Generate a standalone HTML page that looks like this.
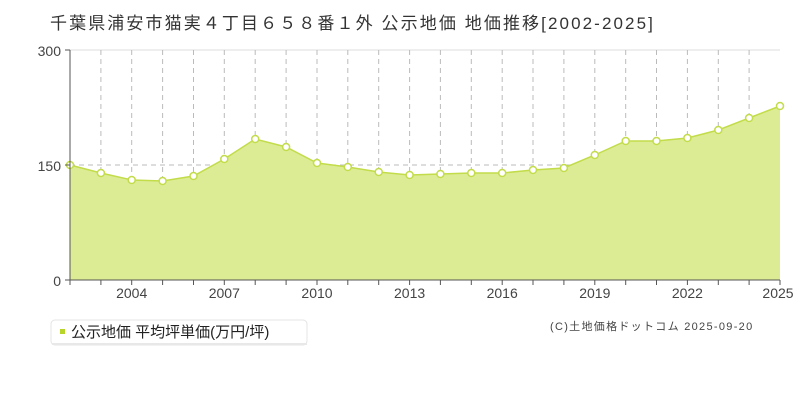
<!DOCTYPE html>
<html><head><meta charset="utf-8"><style>
body{margin:0;background:#fff;width:800px;height:400px;overflow:hidden;font-family:"Liberation Sans","Noto Sans CJK JP",sans-serif;}
</style></head><body>
<svg width="800" height="400" xmlns="http://www.w3.org/2000/svg" style="position:absolute;left:0;top:0">
<text x="50" y="29" font-size="17" fill="#333" letter-spacing="2.1" font-family="Liberation Sans, Noto Sans CJK JP, sans-serif">千葉県浦安市猫実４丁目６５８番１外 公示地価 地価推移[2002-2025]</text>
<line x1="70" y1="50" x2="780" y2="50" stroke="#ddd"/>
<g stroke="#bbb" stroke-dasharray="5,4">
<line x1="100.9" y1="50" x2="100.9" y2="280"/><line x1="131.7" y1="50" x2="131.7" y2="280"/><line x1="162.6" y1="50" x2="162.6" y2="280"/><line x1="193.5" y1="50" x2="193.5" y2="280"/><line x1="224.3" y1="50" x2="224.3" y2="280"/><line x1="255.2" y1="50" x2="255.2" y2="280"/><line x1="286.1" y1="50" x2="286.1" y2="280"/><line x1="317" y1="50" x2="317" y2="280"/><line x1="347.8" y1="50" x2="347.8" y2="280"/><line x1="378.7" y1="50" x2="378.7" y2="280"/><line x1="409.6" y1="50" x2="409.6" y2="280"/><line x1="440.4" y1="50" x2="440.4" y2="280"/><line x1="471.3" y1="50" x2="471.3" y2="280"/><line x1="502.2" y1="50" x2="502.2" y2="280"/><line x1="533" y1="50" x2="533" y2="280"/><line x1="563.9" y1="50" x2="563.9" y2="280"/><line x1="594.8" y1="50" x2="594.8" y2="280"/><line x1="625.7" y1="50" x2="625.7" y2="280"/><line x1="656.5" y1="50" x2="656.5" y2="280"/><line x1="687.4" y1="50" x2="687.4" y2="280"/><line x1="718.3" y1="50" x2="718.3" y2="280"/><line x1="749.1" y1="50" x2="749.1" y2="280"/>
<line x1="70" y1="165" x2="780" y2="165"/>
</g>
<polygon fill="#dcec94" points="70,280 70,165 100.9,173 131.7,180 162.6,181 193.5,176 224.3,159 255.2,139 286.1,147 317,163 347.8,167 378.7,172 409.6,175 440.4,174 471.3,173 502.2,173 533,170 563.9,168 594.8,155 625.7,141 656.5,141 687.4,138 718.3,130 749.1,118 780,106 780,280"/>
<polyline fill="none" stroke="#c2dc4a" stroke-width="1.5" points="70,165 100.9,173 131.7,180 162.6,181 193.5,176 224.3,159 255.2,139 286.1,147 317,163 347.8,167 378.7,172 409.6,175 440.4,174 471.3,173 502.2,173 533,170 563.9,168 594.8,155 625.7,141 656.5,141 687.4,138 718.3,130 749.1,118 780,106"/>
<g fill="#fff" stroke="#c2dc4a" stroke-width="1.5">
<circle cx="70" cy="165" r="3.5"/><circle cx="100.9" cy="173" r="3.5"/><circle cx="131.7" cy="180" r="3.5"/><circle cx="162.6" cy="181" r="3.5"/><circle cx="193.5" cy="176" r="3.5"/><circle cx="224.3" cy="159" r="3.5"/><circle cx="255.2" cy="139" r="3.5"/><circle cx="286.1" cy="147" r="3.5"/><circle cx="317" cy="163" r="3.5"/><circle cx="347.8" cy="167" r="3.5"/><circle cx="378.7" cy="172" r="3.5"/><circle cx="409.6" cy="175" r="3.5"/><circle cx="440.4" cy="174" r="3.5"/><circle cx="471.3" cy="173" r="3.5"/><circle cx="502.2" cy="173" r="3.5"/><circle cx="533" cy="170" r="3.5"/><circle cx="563.9" cy="168" r="3.5"/><circle cx="594.8" cy="155" r="3.5"/><circle cx="625.7" cy="141" r="3.5"/><circle cx="656.5" cy="141" r="3.5"/><circle cx="687.4" cy="138" r="3.5"/><circle cx="718.3" cy="130" r="3.5"/><circle cx="749.1" cy="118" r="3.5"/><circle cx="780" cy="106" r="3.5"/>
</g>
<g stroke="#555">
<line x1="70" y1="50" x2="70" y2="280"/><line x1="70" y1="280" x2="780" y2="280"/>
<line x1="65" y1="50" x2="70" y2="50"/><line x1="65" y1="165" x2="70" y2="165"/><line x1="65" y1="280" x2="70" y2="280"/>
<line x1="70" y1="280" x2="70" y2="285"/><line x1="100.9" y1="280" x2="100.9" y2="285"/><line x1="131.7" y1="280" x2="131.7" y2="285"/><line x1="162.6" y1="280" x2="162.6" y2="285"/><line x1="193.5" y1="280" x2="193.5" y2="285"/><line x1="224.3" y1="280" x2="224.3" y2="285"/><line x1="255.2" y1="280" x2="255.2" y2="285"/><line x1="286.1" y1="280" x2="286.1" y2="285"/><line x1="317" y1="280" x2="317" y2="285"/><line x1="347.8" y1="280" x2="347.8" y2="285"/><line x1="378.7" y1="280" x2="378.7" y2="285"/><line x1="409.6" y1="280" x2="409.6" y2="285"/><line x1="440.4" y1="280" x2="440.4" y2="285"/><line x1="471.3" y1="280" x2="471.3" y2="285"/><line x1="502.2" y1="280" x2="502.2" y2="285"/><line x1="533" y1="280" x2="533" y2="285"/><line x1="563.9" y1="280" x2="563.9" y2="285"/><line x1="594.8" y1="280" x2="594.8" y2="285"/><line x1="625.7" y1="280" x2="625.7" y2="285"/><line x1="656.5" y1="280" x2="656.5" y2="285"/><line x1="687.4" y1="280" x2="687.4" y2="285"/><line x1="718.3" y1="280" x2="718.3" y2="285"/><line x1="749.1" y1="280" x2="749.1" y2="285"/><line x1="780" y1="280" x2="780" y2="285"/>
</g>
<g font-size="14" fill="#444" text-anchor="end">
<text x="61" y="56">300</text><text x="61" y="171">150</text><text x="61" y="286">0</text>
</g>
<g font-size="14" fill="#444" text-anchor="middle">
<text x="131.7" y="298">2004</text><text x="224.3" y="298">2007</text><text x="317" y="298">2010</text><text x="409.6" y="298">2013</text><text x="502.2" y="298">2016</text><text x="594.8" y="298">2019</text><text x="687.4" y="298">2022</text><text x="778" y="298">2025</text>
</g>
<rect x="51" y="320" width="256" height="25" rx="4" fill="#fff" stroke="#e4e4e4"/>
<rect x="52" y="343" width="255" height="2" fill="#e8e8e8"/>
<rect x="60" y="329" width="5" height="5" fill="#b6d42a"/>
<text x="71" y="337" font-size="15" fill="#222">公示地価 平均坪単価(万円/坪)</text>
<text x="550" y="330" font-size="11" fill="#444" letter-spacing="1.3">(C)土地価格ドットコム 2025-09-20</text>
</svg>
</body></html>
